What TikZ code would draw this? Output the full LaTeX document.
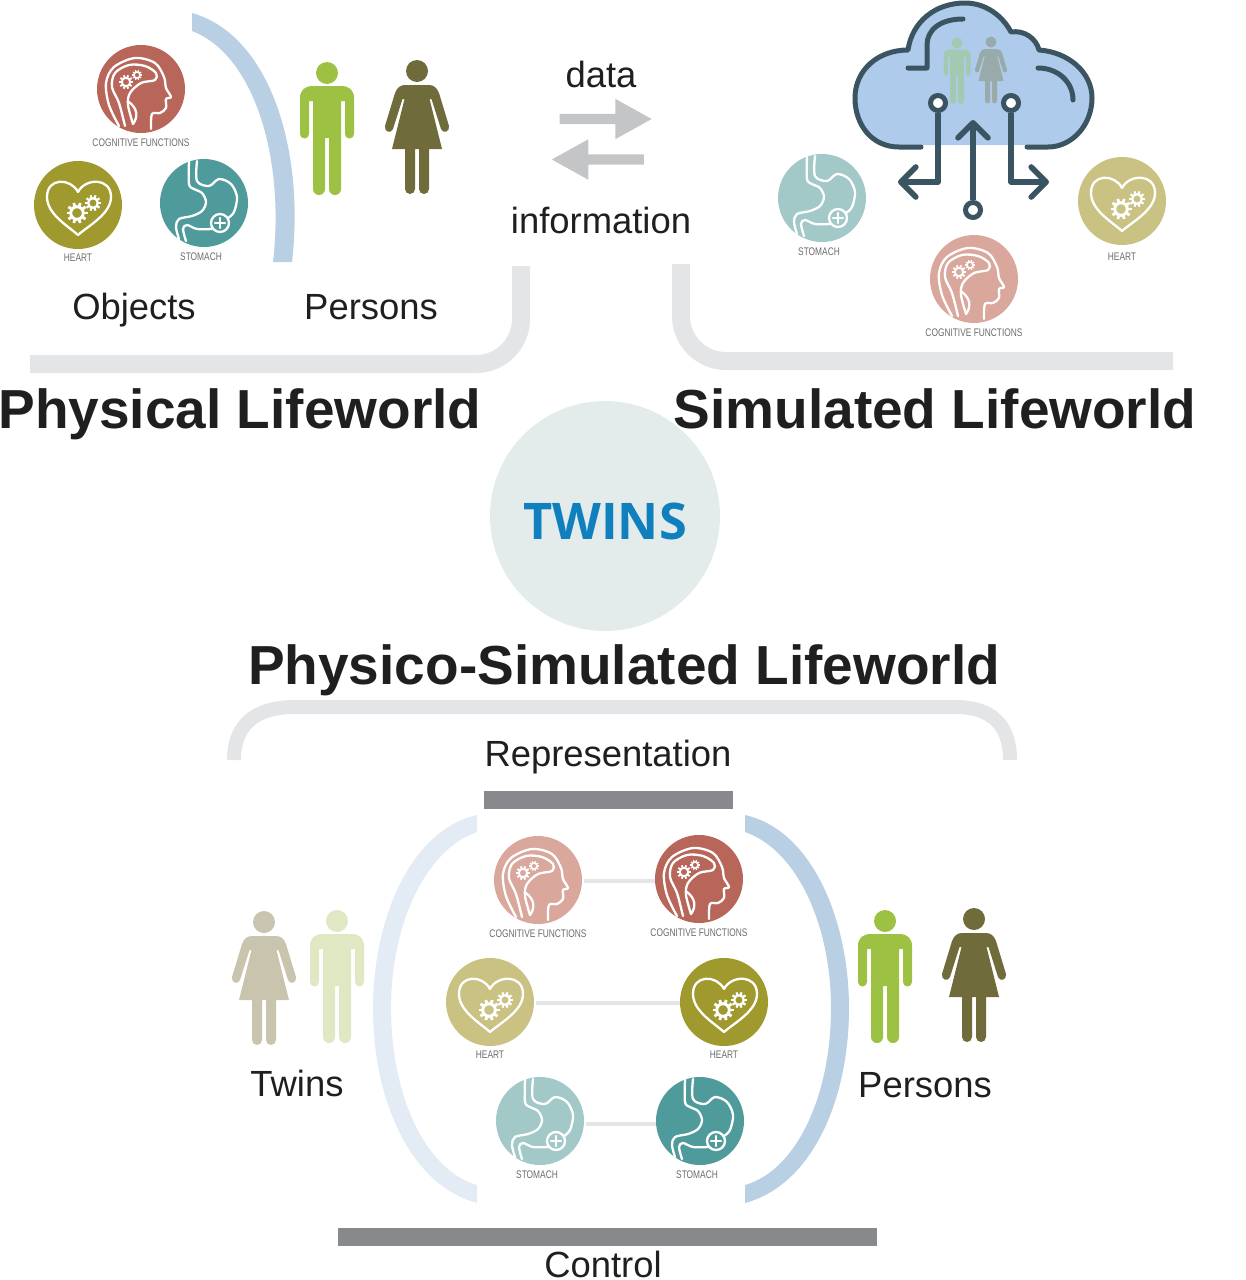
\documentclass[tikz,border=0pt]{standalone}
\usepackage{fontspec}
\setmainfont{Liberation Sans}
\newfontfamily\twinsfont{Open Sans}
\newfontfamily\iconfont[FakeStretch=0.76]{Liberation Sans}
\usetikzlibrary{positioning}
\usetikzlibrary{calc}
\usetikzlibrary{shapes.arrows}
\usetikzlibrary{arrows.meta}
\definecolor{bracket blue}{HTML}{B9CFE4}
\definecolor{bracket pale}{HTML}{E3EBF4}
\definecolor{bracket grey}{HTML}{E4E5E6}
\definecolor{bar grey}{HTML}{87898C}
\definecolor{arrow grey}{HTML}{C3C5C7}
\definecolor{cloud blue}{HTML}{AFCBEB}
\definecolor{cloud line}{HTML}{3B5462}
\definecolor{twins disc}{HTML}{E3ECEB}
\definecolor{twins blue}{HTML}{0F80BD}
\definecolor{brain dark}{HTML}{B9665A}
\definecolor{brain pale}{HTML}{D9A79C}
\definecolor{heart dark}{HTML}{A09A2E}
\definecolor{heart pale}{HTML}{C9C283}
\definecolor{stomach dark}{HTML}{4F9A9A}
\definecolor{stomach pale}{HTML}{A2C8C8}
\definecolor{man dark}{HTML}{9DC243}
\definecolor{man pale}{HTML}{DFE8C3}
\definecolor{man cloud}{HTML}{A3C9B0}
\definecolor{woman dark}{HTML}{6F6B3A}
\definecolor{woman pale}{HTML}{C8C4AE}
\definecolor{woman cloud}{HTML}{98AAA9}
% One small cog: centre x, centre y, outer radius
\newcommand{\cogat}[3]{
    \draw [white, line width=#3*.28] (#1,#2) circle [radius=#3*.6];
    \foreach \a in {0,36,...,324}
        \draw [white, line width=#3*.27] (#1,#2) ++(\a:#3*.65) -- ++(\a:#3*.35);
}
\tikzset{
    >=stealth,
%
    % Big headings and plain labels
    heading/.style={font=\fontsize{55}{60}\selectfont\bfseries, text=black!88,
        inner sep=0, anchor=base},
    plain label/.style={font=\fontsize{36.4}{40}\selectfont, text=black!88,
        inner sep=0, anchor=base},
    icon label/.style={font=\iconfont\fontsize{11}{12}\selectfont, text=black!58, inner sep=0},
    label drop/.store in=\labeldrop,
    label drop=53,
%
    % Pieces of the drawing
    grey bracket/.style={draw=bracket grey, line width=18},
    grey bar/.style={fill=bar grey},
    icon line/.style={draw=white, line width=2.3, line cap=round, line join=round},
    cloud stroke/.style={draw=cloud line, line width=5, line cap=round, line join=round},
    pin/.style={circle, draw=cloud line, line width=5, fill=white, minimum size=15, inner sep=0},
    chevron/.style={draw=cloud line, line width=5.6, line join=round,
        -{Straight Barb[length=15, width=30, line width=5.6, round]}},
    twin link/.style={draw=bracket grey, line width=4, shorten <=2},
    data arrow/.style={single arrow, fill=arrow grey, minimum width=40, inner sep=5,
        single arrow head extend=15, single arrow tip angle=58},
    disc/.style={circle, fill=#1, minimum size=88, inner sep=0},
%
    % Round icons
    pics/brain icon/.style={code={
        \node [disc=#1] (-disc) at (0,0) {};
        \node [icon label] (-label) at (0,54) {COGNITIVE FUNCTIONS};
        \draw [icon line] plot [smooth, tension=.55] coordinates
            {(-22,37) (-32,16) (-35,-6) (-27,-22) (-6,-31) (14,-26) (23,-12) (25,-1) (30,8)
             (25,10) (25,19) (19,24) (11,25) (10,40)};
        \draw [icon line] plot [smooth, tension=.55] coordinates
            {(-16,37) (-22,14) (-29,-2) (-26,-16) (-12,-24) (4,-23) (15,-16) (14,-9) (0,-6)
             (-11,4) (-13,16) (-8,35)};
        \draw [icon line] (-8,35) .. controls (-3,28) and (-3,20) .. (-12,13);
        \cogat{-15}{-7}{7}
        \cogat{-4}{-14}{5}
    }},
    pics/heart icon/.style={code={
        \node [disc=#1] (-disc) at (0,0) {};
        \node [icon label] (-label) at (0,\labeldrop) {HEART};
        \draw [icon line] (0,-13) .. controls (-7,-27) and (-31,-28) .. (-31,-8)
            .. controls (-31,9) and (-10,21) .. (0,30)
            .. controls (10,21) and (33,9) .. (33,-8)
            .. controls (33,-28) and (7,-27) .. (0,-13);
        \cogat{-1}{8}{10.5}
        \cogat{15}{-2}{8}
    }},
    pics/stomach icon/.style={code={
        \node [disc=#1] (-disc) at (0,0) {};
        \node [icon label] (-label) at (-3,54) {STOMACH};
        \draw [icon line] plot [smooth, tension=.55] coordinates
            {(-15,-42) (-15,-19) (-10,-14) (-2,-10) (2,-1) (-2,8) (-12,13) (-25,16) (-28,24) (-25,36)};
        \draw [icon line] plot [smooth, tension=.55] coordinates
            {(-7,-42) (-7,-22) (5,-17) (15,-24) (27,-19) (33,-6) (30,9) (24,15)};
        \draw [icon line] plot [smooth, tension=.55] coordinates
            {(8,26) (-7,26) (-17,22) (-21,26) (-18,38)};
        \draw [icon line] (16,20) circle (9);
        \draw [icon line] (11,20) -- (21,20) (16,15) -- (16,25);
    }},
%
    % Little people, origin in the middle of the head
    pics/man icon/.style={code={
        \fill [#1] (0,0) circle (11);
        \fill [#1] (-27,25) .. controls (-27,17) and (-22,13) .. (-14,13) -- (14,13)
            .. controls (22,13) and (27,17) .. (27,25) -- (27,61) arc (0:180:4.5)
            -- (18,28) -- (14,28) -- (14,116) arc (0:180:6) -- (2,65) -- (-2,65)
            -- (-2,116) arc (0:180:6) -- (-14,28) -- (-18,28) -- (-18,61)
            arc (0:180:4.5) -- cycle;
    }},
    pics/woman icon/.style={code={
        \fill [#1] (0,0) circle (11);
        \fill [#1] (-12,14) -- (12,14) .. controls (17,14) and (20,17) .. (22,22)
            -- (32,55) .. controls (33,61) and (26,63) .. (24,58) -- (14.5,28) -- (12.5,28)
            -- (25,78) -- (12,78) -- (12,118) arc (0:180:5) -- (2,78) -- (-2,78)
            -- (-2,118) arc (0:180:5) -- (-12,78) -- (-25,78) -- (-12.5,28) -- (-14.5,28)
            -- (-24,58) .. controls (-26,63) and (-33,61) .. (-32,55)
            -- (-22,22) .. controls (-20,17) and (-17,14) .. (-12,14) -- cycle;
    }}}

\begin{document}
\begin{tikzpicture}[x=1pt, y=-1pt]
\useasboundingbox (0,0) rectangle (1246,1280);

% Physical lifeworld
\fill [bracket blue] (192,13) .. controls (270,35) and (305,150) .. (292,262)
    -- (273,262) .. controls (285,160) and (255,55) .. (192,31) -- cycle;
\pic (phys brain) at (141,89) {brain icon=brain dark};
\pic (phys heart) at (78,205) {heart icon=heart dark};
\pic (phys stomach) at (204,203) {stomach icon=stomach dark};
\pic (phys man) at (327,73) {man icon=man dark};
\pic (phys woman) at (417,71) {woman icon=woman dark};
\node [plain label] (objects) at (134,319) {Objects};
\node [plain label] (persons top) at (371,319) {Persons};
\draw [grey bracket, rounded corners=45] (30,364) -- (521,364) -- (521,266);
\node [heading] (physical) at (240,428) {Physical Lifeworld};

% Data and information
\node [plain label] (data) at (601,87) {data};
\node [data arrow, minimum height=92] (data arrow) at (601,119) {};
\node [data arrow, minimum height=92, rotate=180] (info arrow) at (602.5,159.5) {};
\node [plain label] (information) at (601,233) {information};

% Simulated lifeworld
\fill [cloud blue] (899,145) .. controls (872,145) and (855,125) .. (855,98)
    .. controls (855,70) and (878,50) .. (908,50)
    .. controls (912,22) and (935,3) .. (965,3)
    .. controls (985,3) and (1002,15) .. (1011,32)
    .. controls (1024,30) and (1036,38) .. (1039,50)
    .. controls (1068,52) and (1092,72) .. (1092,98)
    .. controls (1092,125) and (1072,145) .. (1048,145) -- cycle;
\pic [scale=.5] (cloud man) at (957,43) {man icon=man cloud};
\pic [scale=.5] (cloud woman) at (991,42) {woman icon=woman cloud};
\draw [cloud stroke] (921,147) -- (899,147) .. controls (872,147) and (855,125) .. (855,98)
    .. controls (855,70) and (878,50) .. (908,50)
    .. controls (912,22) and (935,3) .. (965,3)
    .. controls (985,3) and (1002,15) .. (1011,32)
    .. controls (1024,30) and (1036,38) .. (1039,50)
    .. controls (1068,52) and (1092,72) .. (1092,98)
    .. controls (1092,125) and (1072,147) .. (1048,147) -- (1027,147);
\draw [cloud stroke] (963,19) .. controls (940,19) and (927,30) .. (927,45) -- (927,68) -- (908,68);
\draw [cloud stroke] (1038,68) .. controls (1058,68) and (1073,82) .. (1073,100);
\node [pin] (pin left) at (938,103) {};
\node [pin] (pin right) at (1011,103) {};
\node [pin] (pin middle) at (973,210) {};
\coordinate (left tip) at (898,182);
\coordinate (right tip) at (1049,182);
\coordinate (middle tip) at (973,120);
\draw [chevron] (pin left) |- (left tip);
\draw [chevron] (pin right) |- (right tip);
\draw [chevron] (pin middle) -- (middle tip);
\pic (sim stomach) at (822,198) {stomach icon=stomach pale};
\pic [label drop=56] (sim heart) at (1122,201) {heart icon=heart pale};
\pic (sim brain) at (974,279) {brain icon=brain pale};
\draw [grey bracket, rounded corners=45] (1173,361) -- (681,361) -- (681,264);
\node [heading] (simulated) at (935,428) {Simulated Lifeworld};

% Twins
\node [circle, fill=twins disc, minimum size=230, inner sep=0] (twins disc) at (605,516) {};
\node [font=\twinsfont\fontsize{50.5}{56}\selectfont\bfseries, text=twins blue, inner sep=0]
    (twins) at (605,521) {TWINS};
\node [heading] (physico) at (624,684) {Physico-Simulated Lifeworld};

% Physico-simulated lifeworld
\draw [draw=bracket grey, line width=14] (234,760) .. controls (234,725) and (255,707) .. (295,707)
    -- (955,707) .. controls (992,707) and (1010,725) .. (1010,760);
\node [plain label] (representation) at (608,766) {Representation};
\path [grey bar] (484,791) rectangle (733,809);
\fill [bracket pale] (477,815) .. controls (410,830) and (373,920) .. (373,1008)
    .. controls (373,1100) and (410,1185) .. (477,1203) -- (477,1185)
    .. controls (425,1170) and (391,1095) .. (391,1008)
    .. controls (391,925) and (425,850) .. (477,832) -- cycle;
\fill [bracket blue] (745,815) .. controls (812,830) and (849,920) .. (849,1008)
    .. controls (849,1100) and (812,1185) .. (745,1203) -- (745,1185)
    .. controls (797,1170) and (831,1095) .. (831,1008)
    .. controls (831,925) and (797,850) .. (745,832) -- cycle;
\pic (twin brain) at (538,880) {brain icon=brain pale};
\pic (real brain) at (699,879) {brain icon=brain dark};
\pic (twin heart) at (490,1002) {heart icon=heart pale};
\pic (real heart) at (724,1002) {heart icon=heart dark};
\pic (twin stomach) at (540,1121) {stomach icon=stomach pale};
\pic (real stomach) at (700,1121) {stomach icon=stomach dark};
\draw [twin link] ([yshift=-1]twin brain-disc.east) -- ([yshift=-2]real brain-disc.west);
\draw [twin link] ([yshift=-1]twin heart-disc.east) -- ([yshift=-1]real heart-disc.west);
\draw [twin link] ([yshift=-3]twin stomach-disc.east) -- ([yshift=-3]real stomach-disc.west);
\pic (twin woman) at (264,922) {woman icon=woman pale};
\pic (twin man) at (337,921) {man icon=man pale};
\pic (real man) at (885,921) {man icon=man dark};
\pic (real woman) at (974,919) {woman icon=woman dark};
\node [plain label] (twins low) at (297,1096) {Twins};
\node [plain label] (persons low) at (925,1097) {Persons};
\path [grey bar] (338,1228) rectangle (877,1246);
\node [plain label] (control) at (603,1277) {Control};

\end{tikzpicture}
\end{document}
